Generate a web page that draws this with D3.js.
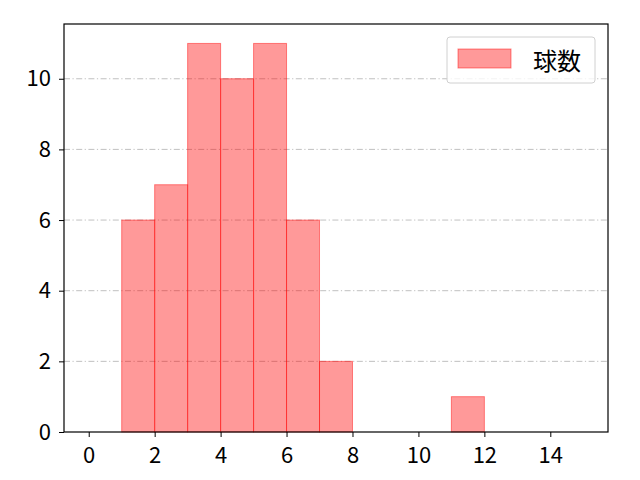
<!DOCTYPE html>
<html>
<head>
<meta charset="utf-8">
<script src="https://cdn.jsdelivr.net/npm/d3@7"></script>
<style>
  body { margin: 0; background: #fff; }
  text { font-family: "Noto Sans CJK JP", "DejaVu Sans", sans-serif; }
</style>
</head>
<body>
<div id="chart"></div>
<script>
// histogram bins (left edge, right edge) and counts
const binStarts = [1, 2, 3, 4, 5, 6, 7, 11];
const binEnds   = [2, 3, 4, 5, 6, 7, 8, 12];
const counts    = [6, 7, 11, 10, 11, 6, 2, 1];
const xTicks = [0, 2, 4, 6, 8, 10, 12, 14];
const yTicks = [0, 2, 4, 6, 8, 10];
const seriesName = "球数";

const margin = { top: 24, right: 32, bottom: 48, left: 64 };
const width  = 640 - margin.left - margin.right;
const height = 480 - margin.top - margin.bottom;

const svg = d3.select("#chart")
  .append("svg")
  .attr("width", 640)
  .attr("height", 480)
  .append("g")
  .attr("transform", `translate(${margin.left},${margin.top})`);

const x = d3.scaleLinear().domain([-0.75, 15.75]).range([0, width]);
const y = d3.scaleLinear().domain([0, 11.55]).range([height, 0]);

// grid lines (horizontal, dash-dot)
svg.append("g")
  .selectAll("line")
  .data(yTicks.filter(d => d > 0))
  .join("line")
  .attr("x1", 0).attr("x2", width)
  .attr("y1", d => y(d)).attr("y2", d => y(d))
  .attr("stroke", "#b0b0b0")
  .attr("stroke-width", 0.8)
  .attr("stroke-dasharray", "6,2.5,1.2,2.5");

// bars
const bins = counts.map((c, i) => ({ x0: binStarts[i], x1: binEnds[i], n: c }));
svg.append("g")
  .selectAll("rect")
  .data(bins)
  .join("rect")
  .attr("x", d => x(d.x0))
  .attr("y", d => y(d.n))
  .attr("width", d => x(d.x1) - x(d.x0))
  .attr("height", d => y(0) - y(d.n))
  .attr("fill", "rgba(255,0,0,0.4)")
  .attr("stroke", "rgba(255,0,0,0.45)")
  .attr("stroke-width", 1);

// axes
const xAxis = svg.append("g")
  .attr("transform", `translate(0,${height})`)
  .call(d3.axisBottom(x).tickValues(xTicks).tickSize(5).tickPadding(10));
const yAxis = svg.append("g")
  .call(d3.axisLeft(y).tickValues(yTicks).tickSize(5).tickPadding(8));

[xAxis, yAxis].forEach(a => {
  a.select(".domain").remove();
  a.selectAll("line").attr("stroke", "#000").attr("stroke-width", 1);
  a.selectAll("text").style("font-size", "22px").attr("fill", "#000");
});

// frame
svg.append("rect")
  .attr("width", width).attr("height", height)
  .attr("fill", "none")
  .attr("stroke", "#000")
  .attr("stroke-width", 1.2);

// legend
const legend = svg.append("g")
  .attr("transform", `translate(${width - 161},${13})`);
legend.append("rect")
  .attr("width", 148).attr("height", 46)
  .attr("rx", 3)
  .attr("fill", "rgba(255,255,255,0.8)")
  .attr("stroke", "#d0d0d0");
legend.append("rect")
  .attr("x", 11).attr("y", 12)
  .attr("width", 53).attr("height", 19)
  .attr("fill", "rgba(255,0,0,0.4)")
  .attr("stroke", "rgba(255,0,0,0.45)");
legend.append("text")
  .attr("x", 86).attr("y", 22)
  .attr("dominant-baseline", "central")
  .style("font-size", "24px")
  .text(seriesName);
</script>
</body>
</html>
